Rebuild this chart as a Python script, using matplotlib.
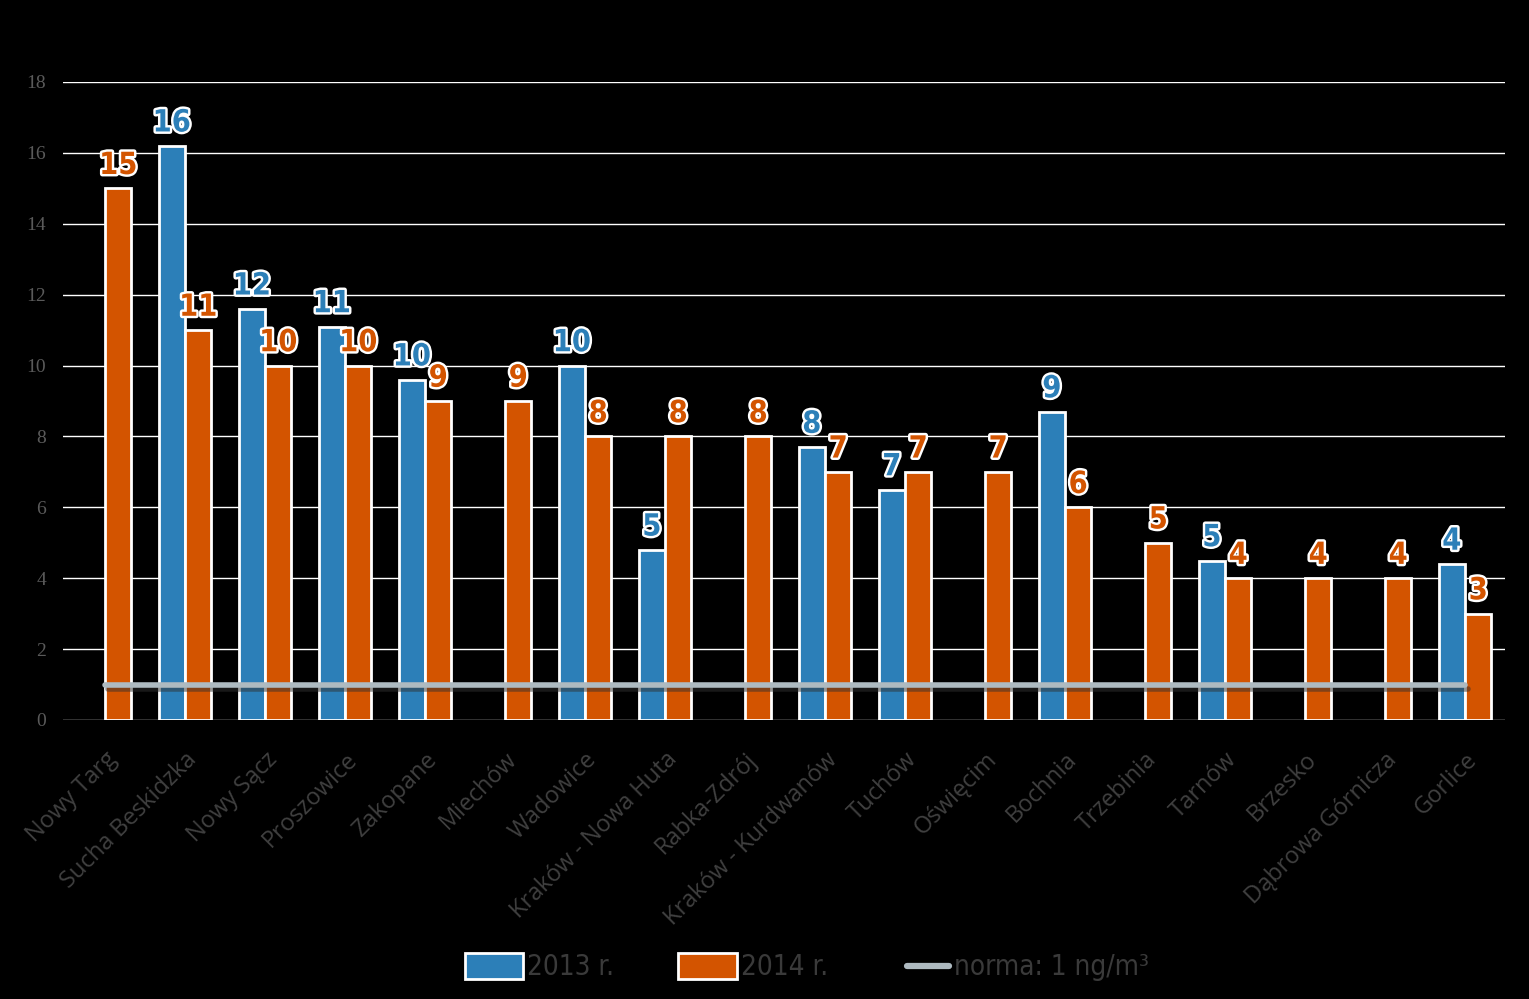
import matplotlib
matplotlib.use("Agg")
import matplotlib.pyplot as plt
import matplotlib.patheffects as pe
from matplotlib.lines import Line2D
from matplotlib.patches import Patch
from matplotlib.legend_handler import HandlerLine2D
import numpy as np

categories = ["Nowy Targ", "Sucha Beskidzka", "Nowy Sącz", "Proszowice", "Zakopane",
              "Miechów", "Wadowice", "Kraków - Nowa Huta", "Rabka-Zdrój",
              "Kraków - Kurdwanów", "Tuchów", "Oświęcim", "Bochnia", "Trzebinia",
              "Tarnów", "Brzesko", "Dąbrowa Górnicza", "Gorlice"]
values_2013 = [None, 16.2, 11.6, 11.1, 9.6, None, 10.0, 4.8, None,
               7.7, 6.5, None, 8.7, None, 4.5, None, None, 4.4]
values_2014 = [15, 11, 10, 10, 9, 9, 8, 8, 8, 7, 7, 7, 6, 5, 4, 4, 4, 3]
norma = 1
yticks = [0, 2, 4, 6, 8, 10, 12, 14, 16, 18]

BLUE = "#2C7FB8"
ORANGE = "#D35400"
LINEC = "#AEBAC0"

fig = plt.figure(figsize=(15.29, 9.99), dpi=100, facecolor="black")
ax = fig.add_axes([63/1529, 279/999, 1442/1529, 638/999], facecolor="black")

x = np.arange(len(categories))
w = 0.33

lab_font = dict(family="DejaVu Sans", weight="bold", stretch="condensed", fontsize=22)
stroke = [pe.withStroke(linewidth=3.5, foreground="white")]

def fmt(v):
    return str(int(v + 0.5))

for i, (a, b) in enumerate(zip(values_2013, values_2014)):
    if a is not None:
        ax.bar(x[i] - w/2, a, width=w, color=BLUE, edgecolor="white", linewidth=2, zorder=3)
        ax.annotate(fmt(a), (x[i] - w/2, a), xytext=(0, 6), textcoords="offset points",
                    ha="center", va="bottom", color=BLUE, path_effects=stroke, zorder=5, **lab_font)
    if b is not None:
        ax.bar(x[i] + w/2, b, width=w, color=ORANGE, edgecolor="white", linewidth=2, zorder=3)
        ax.annotate(fmt(b), (x[i] + w/2, b), xytext=(0, 6), textcoords="offset points",
                    ha="center", va="bottom", color=ORANGE, path_effects=stroke, zorder=5, **lab_font)

ax.plot(x, [norma]*len(x), color=LINEC, linewidth=4, solid_capstyle="round", zorder=4,
        path_effects=[pe.SimpleLineShadow(offset=(2, -3), shadow_color="#303030", alpha=0.5),
                      pe.Normal()])

ax.set_xlim(-0.525, 17.5)
ax.set_ylim(0, 18)
ax.set_yticks(yticks)
ax.set_yticklabels([str(v) for v in yticks], family="Liberation Serif", fontsize=14, color="#5a5a5a")
ax.yaxis.grid(True, color="white", linewidth=1, zorder=0)
ax.set_axisbelow(True)
ax.tick_params(axis="y", length=0, pad=12)
ax.tick_params(axis="x", length=0, pad=20)
ax.set_xticks(x)
ax.set_xticklabels(categories, rotation=45, ha="right", rotation_mode="anchor",
                   fontsize=17, color="#404040", family="Open Sans")
for s in ax.spines.values():
    s.set_visible(False)


class ShortLineHandler(HandlerLine2D):
    def create_artists(self, legend, orig_handle, xdescent, ydescent, width, height,
                       fontsize, trans):
        y = height / 2 - ydescent
        ln = Line2D([-xdescent + width * 0.27, -xdescent + width * 0.98], [y, y],
                    color=orig_handle.get_color(), linewidth=orig_handle.get_linewidth(),
                    solid_capstyle="round", transform=trans)
        return [ln]


handles = [Patch(facecolor=BLUE, edgecolor="white", linewidth=2, label="2013 r."),
           Patch(facecolor=ORANGE, edgecolor="white", linewidth=2, label="2014 r."),
           Line2D([0], [0], color=LINEC, linewidth=4.5, label="norma: 1 ng/m³")]
leg = fig.legend(handles=handles, loc="center", bbox_to_anchor=(807/1529, 32/999), ncol=3,
                 frameon=False, handlelength=2.1, handleheight=1.08, handletextpad=0.15,
                 columnspacing=2.3,
                 handler_map={Line2D: ShortLineHandler()},
                 prop=dict(family="DejaVu Sans", stretch="condensed", size=20))
for t in leg.get_texts():
    t.set_color("#3a3a3a")

fig.savefig("out.png", dpi=100, facecolor="black")
